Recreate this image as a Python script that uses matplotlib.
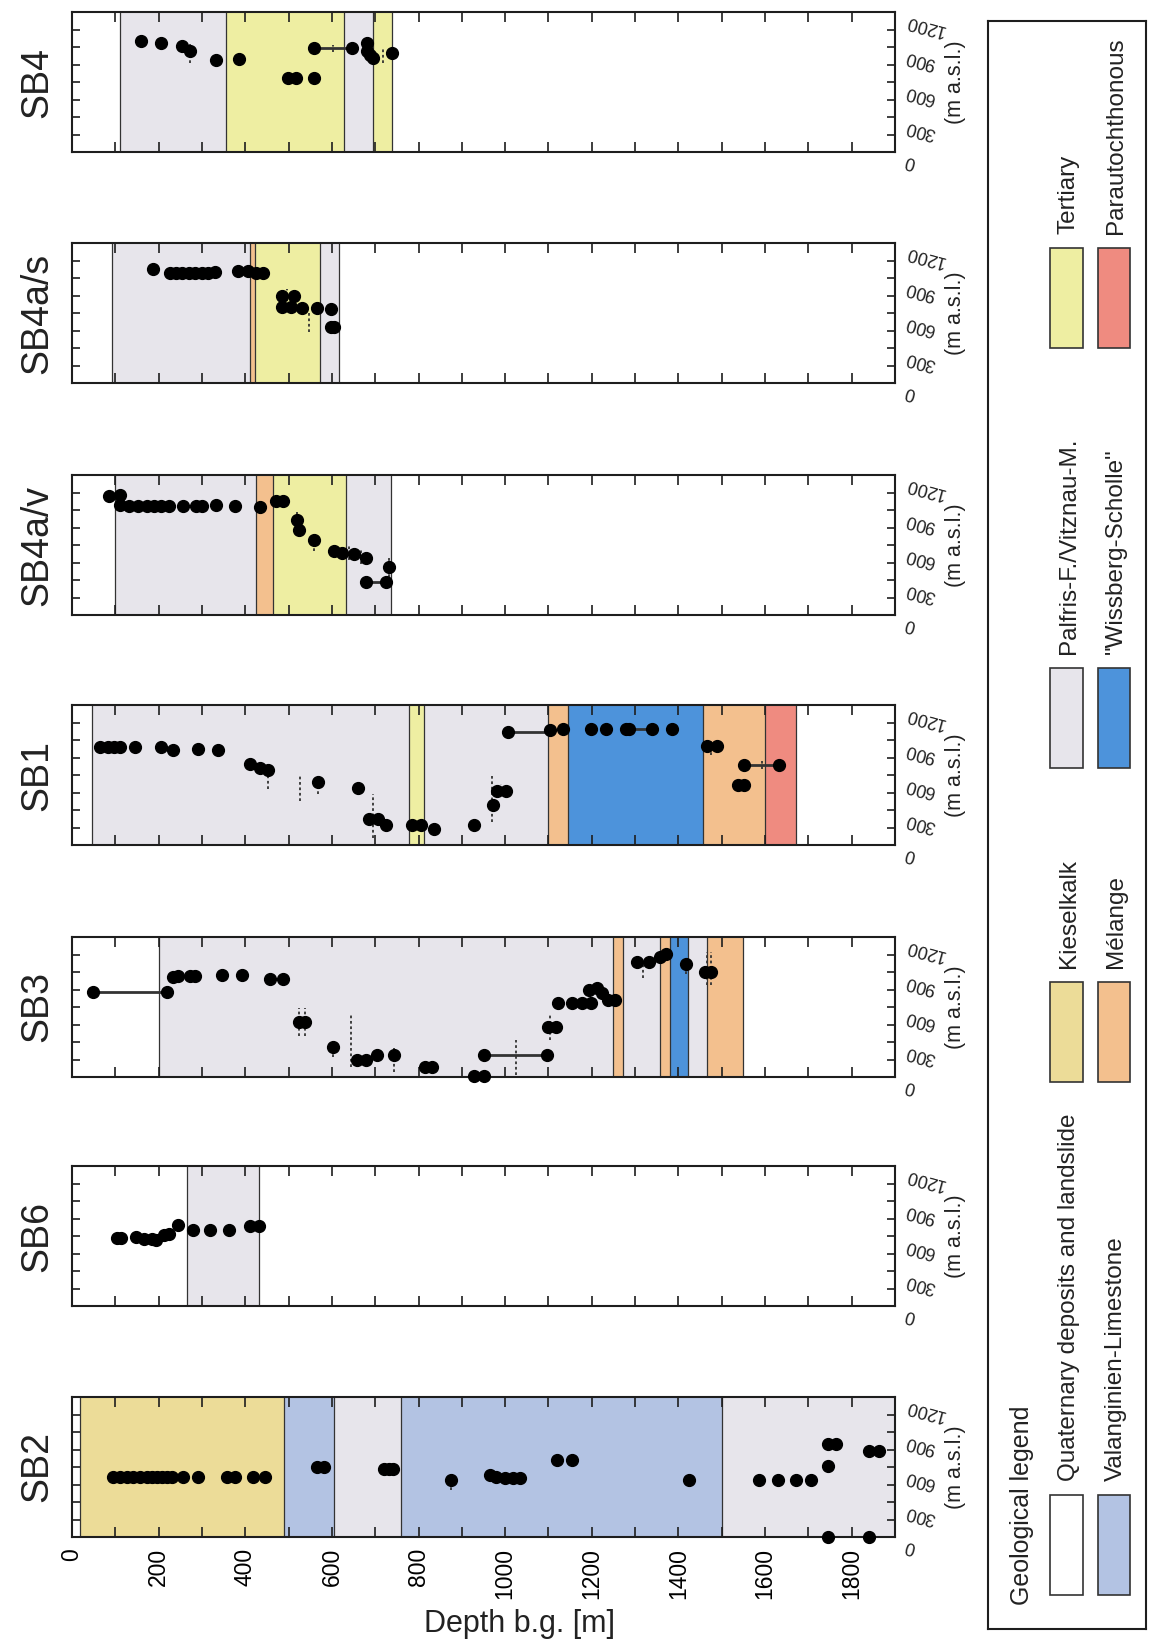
import matplotlib
matplotlib.use("Agg")
import matplotlib.pyplot as plt
from matplotlib.ticker import MultipleLocator
from matplotlib.patches import Rectangle

plt.rcParams['font.family'] = ['Liberation Sans', 'DejaVu Sans']

# ---------------- data ----------------
boreholes = ["SB4", "SB4a/s", "SB4a/v", "SB1", "SB3", "SB6", "SB2"]

unit_names = {
    "Q": "Quaternary deposits and landslide",
    "V": "Valanginien-Limestone",
    "K": "Kieselkalk",
    "M": "Mélange",
    "P": "Palfris-F./Vitznau-M.",
    "W": "\"Wissberg-Scholle\"",
    "T": "Tertiary",
    "A": "Parautochthonous",
}
unit_colors = {
    "Q": "#ffffff",
    "V": "#b3c3e3",
    "K": "#ecdc98",
    "M": "#f3c08e",
    "P": "#e7e5eb",
    "W": "#4d93db",
    "T": "#eeeea2",
    "A": "#ef8b80",
}

# geological intervals (depth edges in m) and their units
SB4_edges = [0, 110, 355, 628, 696, 739, 1900]
SB4_units = ["Q", "P", "T", "P", "T", "Q"]
SB4as_edges = [0, 92, 411, 422, 572, 616, 1900]
SB4as_units = ["Q", "P", "M", "T", "P", "Q"]
SB4av_edges = [0, 100, 425, 463, 633, 736, 1900]
SB4av_units = ["Q", "P", "M", "T", "P", "Q"]
SB1_edges = [0, 47, 778, 812, 1099, 1145, 1456, 1600, 1671, 1900]
SB1_units = ["Q", "P", "T", "P", "M", "W", "M", "A", "Q"]
SB3_edges = [0, 200, 1250, 1271, 1357, 1381, 1421, 1466, 1548, 1900]
SB3_units = ["Q", "P", "M", "P", "M", "W", "P", "M", "Q"]
SB6_edges = [0, 265, 432, 1900]
SB6_units = ["Q", "P", "Q"]
SB2_edges = [0, 18, 490, 604, 760, 1501, 1900]
SB2_units = ["Q", "K", "V", "P", "V", "P"]

# inflow points: depth b.g. (m) and elevation (m a.s.l.)
SB4_depth = [160, 206, 254, 273, 332, 386, 499, 517, 558, 558, 647, 682, 680, 689, 696, 739]
SB4_elev = [955, 933, 910, 862, 787, 798, 638, 638, 638, 890, 890, 933, 862, 834, 806, 848]
SB4as_depth = [188, 227, 240, 255, 270, 285, 300, 315, 329, 383, 407, 425, 442,
               484, 513, 484, 506, 530, 566, 597, 597, 605]
SB4as_elev = [975, 947, 947, 947, 947, 947, 947, 947, 950, 961, 958, 947, 947,
              750, 750, 652, 652, 646, 646, 638, 478, 478]
SB4av_depth = [86, 110, 110, 131, 153, 174, 190, 205, 223, 256, 287, 301, 332, 376,
               435, 470, 488, 520, 523, 558, 605, 623, 651, 679, 679, 725, 732]
SB4av_elev = [1021, 1030, 945, 936, 936, 936, 936, 936, 936, 936, 936, 936, 940, 936,
              925, 973, 973, 817, 732, 647, 548, 528, 519, 491, 287, 287, 414]
SB1_depth = [65, 82, 96, 110, 145, 205, 234, 291, 336, 410, 435, 452, 569, 661, 685, 706,
             724, 784, 806, 835, 929, 972, 982, 1001, 1007, 1103, 1134, 1198, 1233, 1278,
             1285, 1339, 1386, 1466, 1490, 1537, 1551, 1551, 1633]
SB1_elev = [842, 842, 842, 842, 842, 842, 811, 825, 811, 692, 658, 641, 537, 489, 226, 226,
            175, 175, 175, 136, 169, 345, 466, 466, 969, 983, 994, 994, 994, 994,
            997, 994, 994, 847, 847, 514, 514, 686, 686]
SB3_depth = [49, 219, 234, 245, 272, 283, 347, 393, 456, 487, 523, 537, 602, 658, 678, 703,
             743, 816, 830, 929, 951, 951, 1096, 1099, 1117, 1123, 1155, 1177, 1198, 1194,
             1212, 1223, 1237, 1254, 1304, 1332, 1357, 1371, 1417, 1462, 1476]
SB3_elev = [731, 731, 853, 864, 864, 864, 873, 873, 844, 844, 475, 475, 253, 142, 142, 190,
            190, 82, 82, 10, 10, 190, 190, 432, 432, 631, 631, 631, 631, 745,
            759, 722, 660, 660, 987, 987, 1029, 1052, 972, 901, 901]
SB6_depth = [103, 114, 148, 167, 185, 195, 213, 225, 244, 280, 319, 362, 411, 431]
SB6_elev = [585, 585, 590, 576, 571, 565, 605, 613, 698, 650, 655, 655, 689, 689]
SB2_depth = [95, 111, 127, 140, 157, 173, 185, 196, 208, 219, 231, 256, 291, 358, 377, 418,
             446, 566, 581, 720, 731, 742, 874, 965, 979, 1000, 1018, 1035, 1120, 1155,
             1424, 1586, 1631, 1671, 1706, 1746, 1763, 1746, 1746, 1840, 1862, 1840]
SB2_elev = [515, 515, 515, 515, 515, 515, 515, 515, 515, 515, 515, 515, 515, 515, 515, 515,
            515, 600, 600, 582, 582, 582, 485, 534, 517, 506, 506, 506, 664, 664,
            491, 491, 491, 491, 491, 793, 793, 612, 0, 736, 736, 0]

# horizontal ranges (depth from, depth to, elevation)
SB4_links = [(558, 647, 890)]
SB4as_links = []
SB4av_links = [(679, 725, 287)]
SB1_links = [(1007, 1103, 969), (1551, 1633, 686), (1285, 1339, 994)]
SB3_links = [(49, 219, 731), (951, 1096, 190)]
SB6_links = []
SB2_links = []

# vertical uncertainty ranges (depth, elevation low, elevation high)
SB4_errs = [(273, 760, 930), (499, 590, 680), (603, 860, 920), (718, 760, 880)]
SB4as_errs = [(497, 610, 810), (548, 440, 620)]
SB4av_errs = [(376, 900, 950), (520, 680, 880), (558, 550, 670), (640, 470, 600),
              (668, 440, 560), (732, 330, 500)]
SB1_errs = [(452, 480, 650), (527, 380, 590), (569, 440, 590), (696, 60, 440),
            (969, 200, 590), (990, 430, 520), (1475, 770, 890), (1592, 650, 720)]
SB3_errs = [(523, 350, 590), (537, 350, 590), (644, 90, 540), (602, 170, 250),
            (743, 40, 250), (1024, 20, 320), (1103, 320, 550), (1318, 850, 990),
            (1417, 880, 980), (1466, 790, 1070), (1476, 790, 1070)]
SB6_errs = []
SB2_errs = [(874, 400, 490), (1746, 560, 640)]

depth_ticks = [0, 200, 400, 600, 800, 1000, 1200, 1400, 1600, 1800]
elev_ticks = [0, 300, 600, 900, 1200]

legend_rows = [("Q", "V"), ("K", "M"), ("P", "W"), ("T", "A")]

# ---------------- figure ----------------
W, H = 1152, 1648
fig = plt.figure(figsize=(W / 100, H / 100), dpi=100)

panels = {
    "SB4": (SB4_edges, SB4_units, SB4_depth, SB4_elev, SB4_links, SB4_errs),
    "SB4a/s": (SB4as_edges, SB4as_units, SB4as_depth, SB4as_elev, SB4as_links, SB4as_errs),
    "SB4a/v": (SB4av_edges, SB4av_units, SB4av_depth, SB4av_elev, SB4av_links, SB4av_errs),
    "SB1": (SB1_edges, SB1_units, SB1_depth, SB1_elev, SB1_links, SB1_errs),
    "SB3": (SB3_edges, SB3_units, SB3_depth, SB3_elev, SB3_links, SB3_errs),
    "SB6": (SB6_edges, SB6_units, SB6_depth, SB6_elev, SB6_links, SB6_errs),
    "SB2": (SB2_edges, SB2_units, SB2_depth, SB2_elev, SB2_links, SB2_errs),
}

panel_tops = [12, 243, 475, 705, 937, 1166, 1397]
panel_h = 140
x0_px, x1_px = 72, 895
dark = "#1e1e1e"

for i, name in enumerate(boreholes):
    edges, units, dep, elv, links, errs = panels[name]
    top = panel_tops[i]
    ax = fig.add_axes([x0_px / W, 1 - (top + panel_h) / H, (x1_px - x0_px) / W, panel_h / H])
    ax.set_xlim(0, 1900)
    ax.set_ylim(0, 1200)
    for a, b, u in zip(edges[:-1], edges[1:], units):
        ax.axvspan(a, b, color=unit_colors[u], lw=0, zorder=0)
    for e in edges[1:-1]:
        ax.axvline(e, color="#333333", lw=0.9, zorder=1)
    for d, lo, hi in errs:
        ax.plot([d, d], [lo, hi], ls=(0, (1.5, 1.5)), color="#333333", lw=1.3, zorder=2)
    for a, b, e in links:
        ax.plot([a, b], [e, e], color="#333333", lw=2.0, zorder=2)
    ax.plot(dep, elv, "o", color="black", ms=8.5, mec="black", clip_on=False, zorder=3)

    for s in ax.spines.values():
        s.set_linewidth(1.5)
        s.set_color(dark)

    ax.xaxis.set_major_locator(MultipleLocator(200))
    ax.xaxis.set_minor_locator(MultipleLocator(100))
    ax.set_xticks(depth_ticks)
    ax.tick_params(axis="x", which="both", direction="in", top=True, bottom=True,
                   length=7, width=1.2, color=dark)
    ax.set_yticks(elev_ticks)
    ax.yaxis.set_minor_locator(MultipleLocator(150))
    ax.tick_params(axis="y", which="both", direction="in", left=True, right=True,
                   length=6, width=1.2, color=dark, labelleft=False, labelright=True,
                   labelsize=13, labelrotation=165, pad=6)
    for lab in ax.get_yticklabels():
        lab.set_ha("left")
        lab.set_va("top")
        lab.set_color("#222222")
    if name == "SB2":
        ax.tick_params(axis="x", labelbottom=True, labelsize=16.5, labelrotation=90, pad=8)
        ax.set_xticklabels([str(t) for t in depth_ticks])
    else:
        ax.tick_params(axis="x", labelbottom=False)

    yc = 1 - (top + panel_h / 2) / H
    fig.text(37 / W, yc, name, rotation=90, ha="center", va="center", fontsize=27,
             color="#222222")
    fig.text(955 / W, yc, "(m a.s.l.)", rotation=90, ha="center", va="center",
             fontsize=15.5, color="#222222")

fig.text(520 / W, 1 - 1624 / H, "Depth b.g. [m]", ha="center", va="center", fontsize=22,
         color="#222222")

# ---------------- legend box ----------------
bx0, bx1, by0, by1 = 988, 1146, 21, 1629
lax = fig.add_axes([bx0 / W, 1 - by1 / H, (bx1 - bx0) / W, (by1 - by0) / H])
lax.set_xlim(bx0, bx1)
lax.set_ylim(by1, by0)
lax.set_xticks([])
lax.set_yticks([])
for s in lax.spines.values():
    s.set_linewidth(1.5)
    s.set_color(dark)

lax.text(1022, 1605, "Geological legend", rotation=90, ha="center", va="bottom",
         fontsize=18, color="#222222")
row_swatch_top = [1495, 982, 668, 248]
col_x = [(1050, 1083, 1069), (1098, 1130, 1116)]
for (pair, sy) in zip(legend_rows, row_swatch_top):
    for u, (sx0, sx1, tx) in zip(pair, col_x):
        lax.add_patch(Rectangle((sx0, sy), sx1 - sx0, 100, facecolor=unit_colors[u],
                                edgecolor="#333333", lw=1.2))
        lax.text(tx, sy - 14, unit_names[u], rotation=90, ha="center", va="bottom",
                 fontsize=17.5, color="#222222")

fig.savefig("out.png", dpi=100)
